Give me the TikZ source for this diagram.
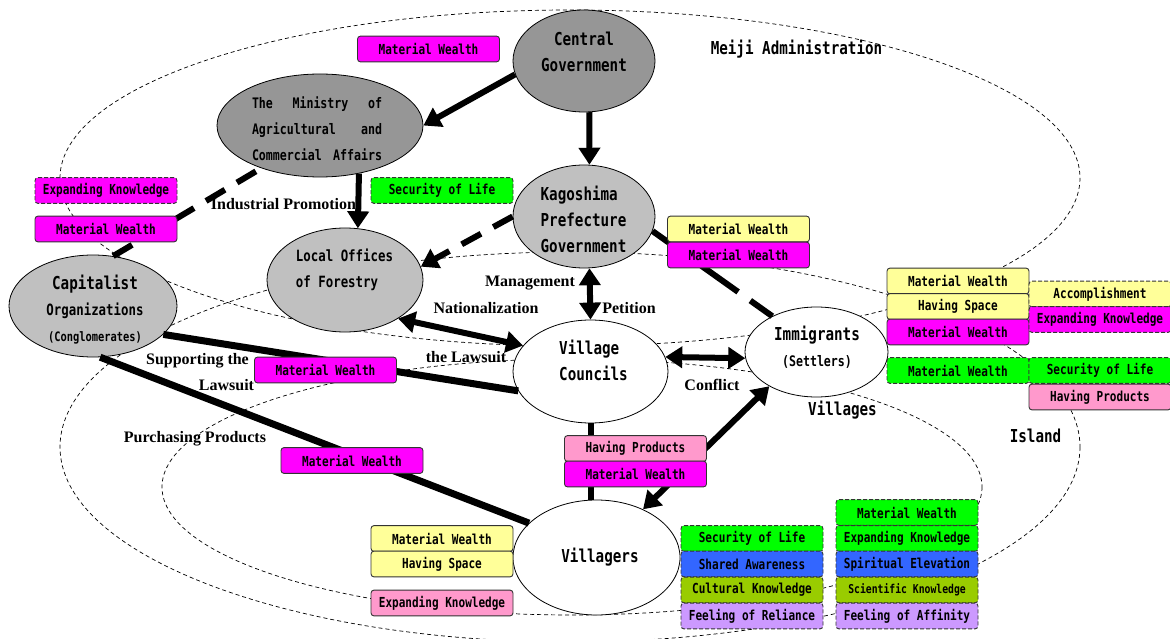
\documentclass[tikz,border=0pt]{standalone}
\usepackage{fontspec}
\newfontfamily\gothic{DejaVu Sans Mono}[FakeStretch=0.8]
\newfontfamily\century{Liberation Serif}
\usetikzlibrary{shapes.geometric,arrows.meta}
\definecolor{govgray}{HTML}{969696}
\definecolor{prefgray}{HTML}{C0C0C0}
\definecolor{wealth}{HTML}{FF00FF}
\definecolor{spacey}{HTML}{FFFF99}
\definecolor{lifeg}{HTML}{00FF00}
\definecolor{prodp}{HTML}{FF99CC}
\definecolor{mindb}{HTML}{3366FF}
\definecolor{knowo}{HTML}{99CC00}
\definecolor{bondl}{HTML}{CC99FF}
\begin{document}
\begin{tikzpicture}[x=1pt, y=-1pt,
  >={Triangle[length=17pt,width=21pt]},
  zone/.style={draw, line width=0.7pt, dash pattern=on 4pt off 3pt},
  actor/.style={ellipse, draw, line width=0.8pt, inner sep=0pt},
  ntext/.style={font=\gothic\bfseries\fontsize{17.8}{26}\selectfont, inner sep=0pt},
  vbox/.style={draw=black!80, line width=0.9pt, rounded corners=3pt, minimum width=142pt, minimum height=25.8pt, inner sep=0pt, font=\gothic\bfseries\fontsize{13.8}{14}\selectfont},
  vdash/.style={vbox, dash pattern=on 4pt off 2pt},
  heavy/.style={line width=6pt},
  note/.style={font=\century\bfseries\fontsize{16}{18}\selectfont, inner sep=0pt, anchor=base}]
  \useasboundingbox (0,0) rectangle (1170,639);
  \draw[zone] (570,178) ellipse [x radius=510, y radius=168];
  \draw[zone] (570,447) ellipse [x radius=510, y radius=195];
  \draw[zone] (572,487) ellipse [x radius=410, y radius=128];

  \node[actor, fill=govgray, minimum width=142pt, minimum height=102pt] (cg) at (584,61) {};
  \node[actor, fill=govgray, minimum width=206pt, minimum height=103pt] (mn) at (320,125.5) {};
  \node[actor, fill=prefgray, minimum width=142pt, minimum height=103pt] (kg) at (584,216.5) {};
  \node[actor, fill=prefgray, minimum width=156pt, minimum height=104pt] (lo) at (345,280) {};
  \node[actor, fill=prefgray, minimum width=168pt, minimum height=102pt] (cap) at (93,306) {};
  \node[actor, fill=white, minimum width=155pt, minimum height=103pt] (vc) at (590.5,371.5) {};
  \node[actor, fill=white, minimum width=143pt, minimum height=90pt] (im) at (816.5,352) {};
  \node[actor, fill=white, minimum width=167pt, minimum height=115pt] (vg) at (596.5,557.5) {};

  \node[ntext, align=center] (cgt) at (584,52) {Central\\Government};
  \node[ntext, align=center, font=\gothic\bfseries\fontsize{14.5}{26}\selectfont] (mnt) at (317,129)
    {\makebox[130pt][s]{The Ministry of}\\\makebox[130pt][s]{Agricultural and}\\\makebox[130pt][s]{Commercial Affairs}};
  \node[ntext, align=left] (kgt) at (583.5,219) {Kagoshima\\Prefecture\\Government};
  \node[ntext, align=left, font=\gothic\bfseries\fontsize{15.5}{26}\selectfont] (lot) at (344.5,270) {Local Offices\\of Forestry};
  \node[ntext, align=center] (capt) at (95,310)
    {Capitalist\\{\fontsize{15.5}{26}\selectfont Organizations}\\{\fontsize{13}{26}\selectfont (Conglomerates)}};
  \node[ntext, align=left] (vct) at (593.5,360) {Village\\Councils};
  \node[ntext, align=center] (imt) at (817,347) {Immigrants\\{\fontsize{14.5}{26}\selectfont (Settlers)}};
  \node[ntext] (vgt) at (600,557) {Villagers};

  \node[ntext, anchor=base] (meiji) at (796.5,55) {Meiji Administration};
  \node[ntext, anchor=base] (vill) at (842.5,415) {Villages};
  \node[ntext, anchor=base] (isl) at (1035.5,442) {Island};

  \node[note] (ipl) at (283.5,209.5) {Industrial Promotion};
  \node[note] (mgl) at (530,287) {Management};
  \node[note] (nal) at (486,313) {Nationalization};
  \node[note] (pel) at (629,313) {Petition};
  \node[note] (spl) at (197.5,364) {Supporting the};
  \node[note] (lwl) at (226.5,390) {Lawsuit};
  \node[note] (tll) at (466,362) {the Lawsuit};
  \node[note] (ppl) at (195,442) {Purchasing Products};
  \node[note] (cfl) at (712,390) {Conflict};

  \draw[heavy, ->] (cg.191) -- (mn.east);
  \draw[heavy, ->] (cg.-84) -- (kg.84);
  \draw[heavy, ->] (mn.-51) -- (lo.76);
  \draw[heavy, dash pattern=on 22pt off 14pt] (cap.68) -- (mn.216);
  \draw[heavy, ->, dash pattern=on 22pt off 14pt] (kg.west) -- (lo.10);
  \draw[heavy, dash pattern=on 45pt off 15pt] (kg.-12) -- (im.141);
  \draw[heavy, <->] (kg.-84) -- (vc.north);
  \draw[heavy, <->] (lo.-36) -- (vc.159);
  \draw[heavy, <->] (vc.11) -- (im.185);
  \draw[heavy, <->] (vg.46) -- (im.216);
  \draw[heavy] (vc.south) -- (vc.south |- vg.north);
  \draw[heavy, line width=7pt] (cap.-22) -- (vc.195);
  \draw[heavy, line width=7pt] (cap.-82) -- (vg.153);

  \node[vbox, fill=wealth] (mw1) at (428.5,49) {Material Wealth};
  \node[vdash, fill=wealth] (ek1) at (106,190.5) {Expanding Knowledge};
  \node[vbox, fill=wealth] (mw2) at (106,229) {Material Wealth};
  \node[vdash, fill=lifeg] (sl1) at (442,190.5) {Security of Life};
  \node[vbox, fill=spacey] (mw3) at (738.5,229) {Material Wealth};
  \node[vbox, fill=wealth] (mw4) at (738.5,255) {Material Wealth};
  \node[vbox, fill=spacey] (mw5) at (958,281) {Material Wealth};
  \node[vbox, fill=spacey] (hs1) at (958,306.5) {Having Space};
  \node[vbox, fill=wealth] (mw6) at (958,332) {Material Wealth};
  \node[vdash, fill=spacey] (ac1) at (1100,294) {Accomplishment};
  \node[vdash, fill=wealth] (ek2) at (1100,319.5) {Expanding Knowledge};
  \node[vdash, fill=lifeg] (mw7) at (958,370.5) {Material Wealth};
  \node[vdash, fill=lifeg] (sl2) at (1100,370.5) {Security of Life};
  \node[vbox, fill=prodp] (hp1) at (1100,397) {Having Products};
  \node[vbox, fill=wealth] (mw8) at (325.5,370) {Material Wealth};
  \node[vbox, fill=wealth] (mw9) at (352,460.5) {Material Wealth};
  \node[vbox, fill=prodp] (hp2) at (635.5,448.5) {Having Products};
  \node[vbox, fill=wealth] (mw10) at (635.5,474) {Material Wealth};
  \node[vbox, fill=spacey] (mw11) at (442,538.5) {Material Wealth};
  \node[vbox, fill=spacey] (hs2) at (442,564) {Having Space};
  \node[vbox, fill=prodp] (ek3) at (442,603) {Expanding Knowledge};
  \node[vdash, fill=lifeg] (sl3) at (752,538.5) {Security of Life};
  \node[vdash, fill=mindb] (sa1) at (752,564) {Shared Awareness};
  \node[vdash, fill=knowo] (ck1) at (752,590) {Cultural Knowledge};
  \node[vdash, fill=bondl] (fr1) at (752,616) {Feeling of Reliance};
  \node[vdash, fill=lifeg] (mw12) at (907,512.5) {Material Wealth};
  \node[vdash, fill=lifeg] (ek4) at (907,538.5) {Expanding Knowledge};
  \node[vdash, fill=mindb] (se1) at (907,564) {Spiritual Elevation};
  \node[vdash, fill=knowo, font=\gothic\bfseries\fontsize{12.2}{13}\selectfont] (sk1) at (907,590) {Scientific Knowledge};
  \node[vdash, fill=bondl] (fa1) at (907,616) {Feeling of Affinity};
\end{tikzpicture}
\end{document}
